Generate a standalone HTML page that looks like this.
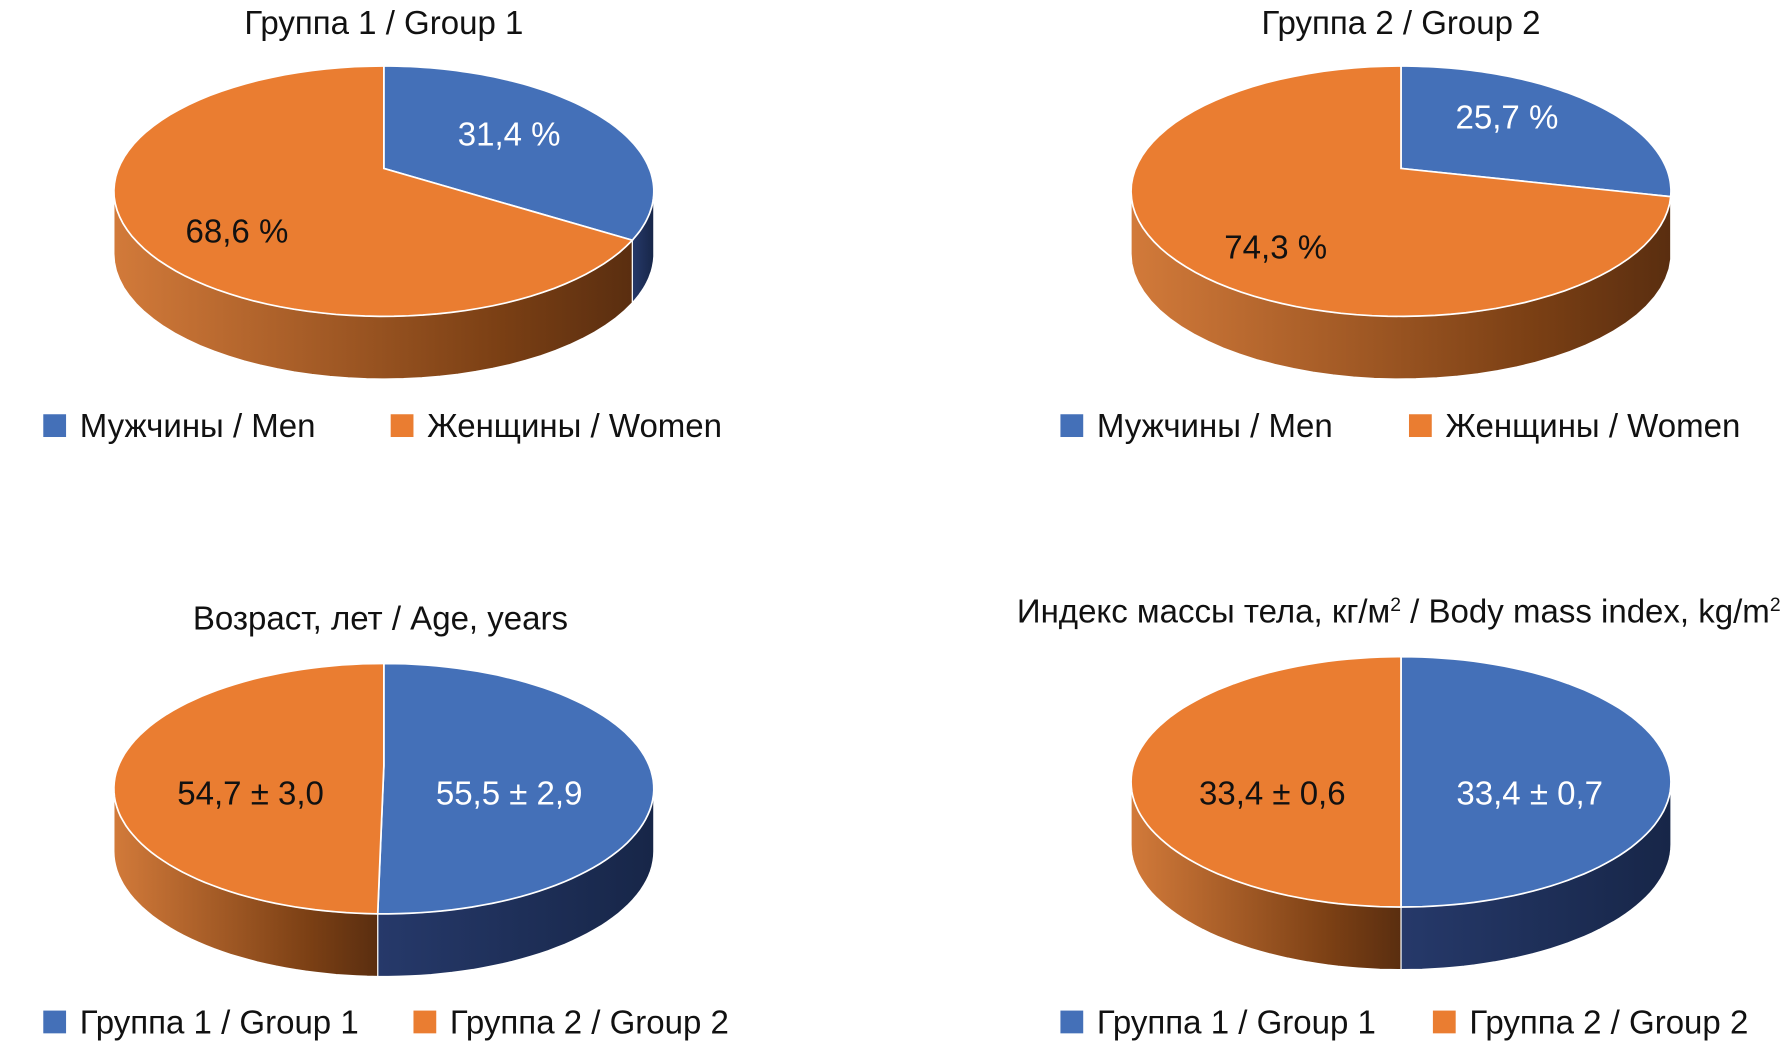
<!DOCTYPE html>
<html><head><meta charset="utf-8"><style>
html,body{margin:0;padding:0;background:#fff}
svg{display:block}
text{font-family:"Liberation Sans Narrow","Liberation Sans",sans-serif;font-size:29px}
</style></head><body>
<svg id="chart" width="1786" height="1047" viewBox="0 0 1568 920" preserveAspectRatio="none" xmlns="http://www.w3.org/2000/svg">
<defs>
<linearGradient id="gO" x1="0" x2="1" y1="0" y2="0"><stop offset="0" stop-color="#d27a3a"/><stop offset="0.75" stop-color="#7a3f14"/><stop offset="1" stop-color="#5a2e10"/></linearGradient>
<linearGradient id="gB" x1="0" x2="1" y1="0" y2="0"><stop offset="0" stop-color="#26396a"/><stop offset="1" stop-color="#172648"/></linearGradient>
</defs>
<g id="root"></g>
</svg>
<script>
const pieTitles = ["Группа 1 / Group 1","Группа 2 / Group 2","Возраст, лет / Age, years",""];
const pie1Values = [31.4, 68.6];
const pie2Values = [25.7, 74.3];
const pie3Values = [55.5, 54.7];
const pie4Values = [33.4, 33.4];
const pie1Labels = ["31,4 %","68,6 %"];
const pie2Labels = ["25,7 %","74,3 %"];
const pie3Labels = ["55,5 ± 2,9","54,7 ± 3,0"];
const pie4Labels = ["33,4 ± 0,7","33,4 ± 0,6"];
const legendSexLabels = ["Мужчины / Men","Женщины / Women"];
const legendGroupLabels = ["Группа 1 / Group 1","Группа 2 / Group 2"];

const NS="http://www.w3.org/2000/svg";
const root=document.getElementById('root');
const TOP=["#4470b8","#ea7d31"], SIDE=["url(#gB)","url(#gO)"];
function mk(tag,attrs,parent){const e=document.createElementNS(NS,tag);for(const k in attrs)e.setAttribute(k,attrs[k]);(parent||root).appendChild(e);return e;}
function pt(cx,cy,rx,ry,a){const r=a*Math.PI/180;return [cx+rx*Math.sin(r),cy-ry*Math.cos(r)];}
function drawPie(idx,cx,cy,values,labels,labelPos){
  const rx=237,ry=110,d=55;
  const g=mk('g',{});
  
  
  const total=values.reduce((a,b)=>a+b,0);
  let start=0; const ranges=[];
  values.forEach(v=>{const end=start+v/total*360;ranges.push([start,end]);start=end;});
  // sides
  ranges.forEach((r,i)=>{
    const a0=Math.max(r[0],90),a1=Math.min(r[1],270);
    if(a1<=a0)return;
    let dstr='';const n=40;
    for(let k=0;k<=n;k++){const p=pt(cx,cy,rx,ry,a0+(a1-a0)*k/n);dstr+=(k?'L':'M')+p[0].toFixed(1)+','+p[1].toFixed(1);}
    for(let k=n;k>=0;k--){const p=pt(cx,cy+d,rx,ry,a0+(a1-a0)*k/n);dstr+='L'+p[0].toFixed(1)+','+p[1].toFixed(1);}
    const s=mk('path',{d:dstr+'Z',fill:SIDE[i],stroke:'#fff','stroke-width':1},g);
    
    
  });
  // tops
  const apex=[cx,cy-20+idx*0];
  ranges.forEach((r,i)=>{
    let dstr='M'+cx+','+(cy-20);const n=80;
    for(let k=0;k<=n;k++){const p=pt(cx,cy,rx,ry,r[0]+(r[1]-r[0])*k/n);dstr+='L'+p[0].toFixed(1)+','+p[1].toFixed(1);}
    const s=mk('path',{d:dstr+'Z',fill:TOP[i],stroke:'#fff','stroke-width':1.5},g);
    
    
    const t=mk('text',{x:labelPos[i][0],y:labelPos[i][1],'text-anchor':'middle',fill:i===0?'#fff':'#111'},g);
    t.textContent=labels[i];
    
    
  });
}
function title(txt,x,y,name){const t=mk('text',{x:x,y:y,'text-anchor':'middle',fill:'#111'});t.textContent=txt;
  return t;}
function legend(labels,x0,x1,y,name){
  labels.forEach((l,i)=>{const x=i?x1:x0;
    const r=mk('rect',{x:x,y:y-20,width:20,height:20,fill:TOP[i]});
    
    const t=mk('text',{x:x+32,y:y,fill:'#111'});t.textContent=l;
    });
}
title(pieTitles[0],337,30,'pie-1-title');
title(pieTitles[1],1230,30,'pie-2-title');
title(pieTitles[2],334,553,'pie-3-title');
const bt=title('',1228,547,'pie-4-title');
bt.innerHTML='Индекс массы тела, кг/м<tspan dy="-10" font-size="17">2</tspan><tspan dy="10"> / Body mass index, kg/m</tspan><tspan dy="-10" font-size="17">2</tspan>';
drawPie(0,337,168,pie1Values,pie1Labels,[[447,128],[208,213]]);
drawPie(1,1230,168,pie2Values,pie2Labels,[[1323,113],[1120,227]]);
drawPie(2,337,693,pie3Values,pie3Labels,[[447,707],[220,707]]);
drawPie(3,1230,687,pie4Values,pie4Labels,[[1343,707],[1117,707]]);
legend(legendSexLabels,38,343,384,'legend-top-left');
legend(legendSexLabels,931,1237,384,'legend-top-right');
legend(legendGroupLabels,38,363,908,'legend-bottom-left');
legend(legendGroupLabels,931,1258,908,'legend-bottom-right');
</script>
</body></html>
